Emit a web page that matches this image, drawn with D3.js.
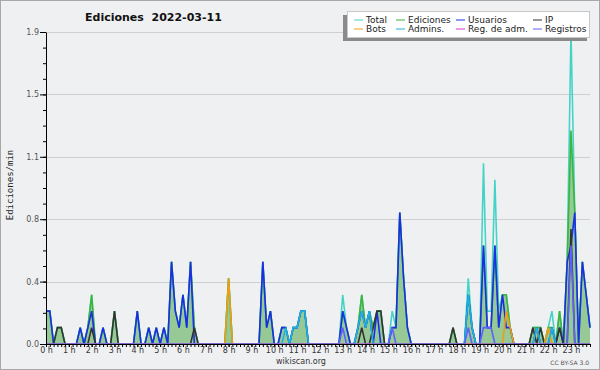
<!DOCTYPE html>
<html><head><meta charset="utf-8">
<script src="https://cdn.jsdelivr.net/npm/d3@7"></script>
<style>
html,body{margin:0;padding:0;background:#eff0f2;}
svg{display:block;}
text{font-family:"DejaVu Sans",sans-serif;}
</style></head><body>
<svg id="chart" width="600" height="370"></svg>
<script>
// 10-minute buckets (144 per day), values in edits/min
const hourLabels = ["0 h","1 h","2 h","3 h","4 h","5 h","6 h","7 h","8 h","9 h","10 h","11 h",
  "12 h","13 h","14 h","15 h","16 h","17 h","18 h","19 h","20 h","21 h","22 h","23 h"];
const yTicks = [0, 0.38, 0.76, 1.14, 1.52, 1.9];

const total = [
.2,.2,0,.1,.1,0,0,0,0,.1,0,.1,
.3,0,0,.1,0,0,.2,0,0,0,0,0,
.2,0,0,.1,0,.1,0,.1,0,.5,.2,.1,
.3,.1,.5,.1,0,0,0,0,0,0,0,0,
.4,0,0,0,0,0,0,0,0,.5,.1,.2,
0,0,.1,.1,0,.1,.1,.2,.2,0,0,0,
0,0,0,0,0,0,.3,.1,0,0,.1,.3,
.1,.2,.1,.2,.2,0,0,.2,.1,.8,.4,.1,
0,0,0,0,0,0,0,0,0,0,0,.1,
0,0,0,.4,.1,0,0,1.1,.2,.2,1.0,.2,
.3,.3,.1,0,0,0,0,0,.1,.1,.1,0,
.1,.2,0,.2,0,.5,1.9,.8,0,.5,.3,.1];

const ediciones = [
.2,.2,0,.1,.1,0,0,0,0,.1,0,.1,
.3,0,0,.1,0,0,.2,0,0,0,0,0,
.2,0,0,.1,0,.1,0,.1,0,.5,.2,.1,
.3,.1,.5,.1,0,0,0,0,0,0,0,0,
.4,0,0,0,0,0,0,0,0,.5,.1,.2,
0,0,.1,.1,0,.1,.1,.2,.2,0,0,0,
0,0,0,0,0,0,.2,.1,0,0,.1,.3,
.1,.2,.1,.2,.2,0,0,.1,.1,.8,.4,.1,
0,0,0,0,0,0,0,0,0,0,0,.1,
0,0,0,.3,.1,0,0,.6,.1,.1,.6,.1,
.3,.3,.1,0,0,0,0,0,.1,.1,.1,0,
.1,.1,0,.2,0,.5,1.3,.8,0,.5,.3,.1];

const usuarios = [
.2,.2,0,0,0,0,0,0,0,.1,0,.1,
.2,0,0,.1,0,0,0,0,0,0,0,0,
.2,0,0,.1,0,.1,0,.1,0,.5,.2,.1,
.3,.1,.5,0,0,0,0,0,0,0,0,0,
0,0,0,0,0,0,0,0,0,.5,.1,.2,
0,0,.1,.1,0,.1,.1,.2,.2,0,0,0,
0,0,0,0,0,0,.2,.1,0,0,.1,.2,
.1,.2,0,.2,0,0,0,.1,.1,.8,.4,.1,
0,0,0,0,0,0,0,0,0,0,0,0,
0,0,0,.3,.1,0,0,.6,.1,.1,.6,.1,
.3,.1,.1,0,0,0,0,0,0,.1,0,0,
0,.1,0,.1,0,.5,.6,.8,0,.5,.3,.1];

const ip = [
0,0,0,.1,.1,0,0,0,0,0,0,0,
.1,0,0,0,0,0,.2,0,0,0,0,0,
0,0,0,0,0,0,0,0,0,0,0,0,
0,0,0,.1,0,0,0,0,0,0,0,0,
0,0,0,0,0,0,0,0,0,0,0,0,
0,0,0,0,0,0,0,0,0,0,0,0,
0,0,0,0,0,0,0,0,0,0,0,.1,
0,0,.1,.2,.2,0,0,0,0,0,0,0,
0,0,0,0,0,0,0,0,0,0,0,.1,
0,0,0,0,0,0,0,0,0,0,0,0,
0,0,0,0,0,0,0,0,.1,0,.1,0,
0,0,0,.1,0,0,.7,0,0,0,0,0];

const bots = [
0,0,0,0,0,0,0,0,0,0,0,0,
0,0,0,0,0,0,0,0,0,0,0,0,
0,0,0,0,0,0,0,0,0,0,0,0,
0,0,0,0,0,0,0,0,0,0,0,0,
.4,0,0,0,0,0,0,0,0,0,0,0,
0,0,0,0,0,0,0,0,0,0,0,0,
0,0,0,0,0,0,0,0,0,0,0,0,
0,0,0,0,0,0,0,0,0,0,0,0,
0,0,0,0,0,0,0,0,0,0,0,0,
0,0,0,0,0,0,0,0,0,0,0,0,
0,.2,.1,0,0,0,0,0,0,0,0,0,
.1,0,0,0,0,0,0,0,0,0,0,0];

const admins = [
0,0,0,0,0,0,0,0,0,0,0,0,
0,0,0,0,0,0,0,0,0,0,0,0,
0,0,0,0,0,0,0,0,0,0,0,0,
0,0,0,0,0,0,0,0,0,0,0,0,
0,0,0,0,0,0,0,0,0,0,0,0,
0,0,0,.1,0,.1,.1,.2,.2,0,0,0,
0,0,0,0,0,0,0,0,0,0,.1,.2,
.1,.2,0,0,0,0,0,0,0,0,0,0,
0,0,0,0,0,0,0,0,0,0,0,0,
0,0,0,.3,.1,0,0,0,0,0,0,0,
0,0,0,0,0,0,0,0,0,.1,0,0,
0,.1,0,0,0,0,0,0,0,0,0,0];

const regAdm = [
0,0,0,0,0,0,0,0,0,0,0,0,
0,0,0,0,0,0,0,0,0,0,0,0,
0,0,0,0,0,0,0,0,0,0,0,0,
0,0,0,0,0,0,0,0,0,0,0,0,
0,0,0,0,0,0,0,0,0,0,0,0,
0,0,0,0,0,0,0,0,0,0,0,0,
0,0,0,0,0,0,0,0,0,0,0,0,
0,0,0,0,0,0,0,0,0,0,0,0,
0,0,0,0,0,0,0,0,0,0,0,0,
0,0,0,0,0,0,0,0,0,0,0,0,
0,0,0,0,0,0,0,0,0,0,0,0,
0,0,0,0,0,0,0,0,0,0,0,0];

const registros = [
0,0,0,0,0,0,0,0,0,0,0,0,
0,0,0,0,0,0,0,0,0,0,0,0,
0,0,0,0,0,0,0,0,0,0,0,0,
0,0,0,0,0,0,0,0,0,0,0,0,
0,0,0,0,0,0,0,0,0,0,0,0,
0,0,0,0,0,0,0,0,0,0,0,0,
0,0,0,0,0,0,.1,0,0,0,0,0,
0,0,0,0,0,0,0,.1,0,0,0,0,
0,0,0,0,0,0,0,0,0,0,0,0,
0,0,0,.1,0,0,0,.1,.1,.1,0,0,
0,0,0,0,0,0,0,0,0,0,0,0,
0,0,0,0,0,0,.6,0,0,0,0,0];

const seriesNames = ["Total","Ediciones","Usuarios","IP","Bots","Admins.","Reg. de adm.","Registros"];
const seriesColors = ["#45d3c7","#3db53d","#1c2de8","#333333","#f39c12","#1fb2e0","#e030e0","#5f5fff"];
const seriesData = [total, ediciones, usuarios, ip, bots, admins, regAdm, registros];

const svg = d3.select("#chart");
const W = 600, H = 370;
const pL = 46, pR = 590, pT = 32, pB = 344;

svg.append("rect").attr("x",0.5).attr("y",0.5).attr("width",W-1).attr("height",H-1)
  .attr("fill","#eff0f2").attr("stroke","#a8a8a8");

const x = d3.scaleLinear().domain([0, 143]).range([pL, pR]);
const y = d3.scaleLinear().domain([0, 1.9]).range([pB, pT]);

// grid
svg.append("g").selectAll("line").data(yTicks.slice(1)).join("line")
  .attr("x1", pL).attr("x2", pR)
  .attr("y1", d => Math.round(y(d)) + 0.5).attr("y2", d => Math.round(y(d)) + 0.5)
  .attr("stroke", "#cfcfcf").attr("stroke-width", 1);

svg.append("defs").append("clipPath").attr("id","clip")
  .append("rect").attr("x", pL).attr("y", pT - 2).attr("width", pR - pL + 2).attr("height", pB - pT + 1.6);

const plot = svg.append("g").attr("clip-path","url(#clip)");
const idx = d3.range(144);

// filled Ediciones area
plot.append("path").datum(idx)
  .attr("d", d3.area().x(i => x(i)).y0(y(0)).y1(i => y(ediciones[i])))
  .attr("fill", "#97c997");

const lineOf = arr => d3.line().x(i => x(i)).y(i => y(arr[i]));
seriesData.forEach((arr, k) => {
  plot.append("path").datum(idx)
    .attr("d", lineOf(arr))
    .attr("fill", "none")
    .attr("stroke", seriesColors[k])
    .attr("stroke-width", 1.6)
    .attr("stroke-linejoin", "miter");
});

// axes
const fontSmall = "8px";
const yMinor = d3.range(0, 21).map(k => k * 0.095);
svg.append("g").attr("transform", `translate(${pL},0)`)
  .call(d3.axisLeft(y).tickValues(yMinor).tickSize(3).tickSizeOuter(0).tickFormat(""))
  .call(g => g.select(".domain").remove())
  .call(g => g.selectAll("line").attr("stroke","#000"));
svg.append("g").attr("transform", `translate(${pL},0)`)
  .call(d3.axisLeft(y).tickValues(yTicks).tickSize(6).tickSizeOuter(0).tickPadding(1).tickFormat(d3.format(".1f")))
  .call(g => g.select(".domain").attr("stroke","#000"))
  .call(g => g.selectAll("line").attr("stroke","#000"))
  .call(g => g.selectAll("text").attr("fill","#555").style("font-size", fontSmall).style("font-family","DejaVu Sans"));

svg.append("g").attr("transform", `translate(0,${pB})`)
  .call(d3.axisBottom(x).tickValues(idx).tickSize(3).tickSizeOuter(0).tickFormat(""))
  .call(g => g.select(".domain").remove())
  .call(g => g.selectAll("line").attr("stroke","#000"));
svg.append("g").attr("transform", `translate(0,${pB})`)
  .call(d3.axisBottom(x).tickValues(d3.range(0, 144, 6)).tickSize(3).tickSizeOuter(0).tickPadding(0)
    .tickFormat(i => hourLabels[i / 6]))
  .call(g => g.select(".domain").attr("stroke","#000"))
  .call(g => g.selectAll("line").attr("stroke","#000"))
  .call(g => g.selectAll("text").attr("fill","#333").style("font-size", fontSmall).style("font-family","DejaVu Sans"));

// title
svg.append("text").attr("x", 85).attr("y", 21)
  .style("font-family","DejaVu Sans").style("font-weight","bold").style("font-size","11px")
  .style("white-space","pre").attr("fill","#111")
  .text("Ediciones  2022-03-11");

// y label
svg.append("text").attr("transform","translate(13,185) rotate(-90)")
  .attr("text-anchor","middle")
  .style("font-family","DejaVu Sans Mono").style("font-size","9px").attr("fill","#222")
  .text("Ediciones/min");

// footer
svg.append("text").attr("x", 301).attr("y", 364).attr("text-anchor","middle")
  .style("font-size","8px").attr("fill","#333").text("wikiscan.org");
svg.append("text").attr("x", 589).attr("y", 365).attr("text-anchor","end")
  .style("font-size","6px").attr("fill","#555").text("CC BY-SA 3.0");

// legend
const lg = svg.append("g");
lg.append("rect").attr("x",343).attr("y",15).attr("width",244).attr("height",26).attr("fill","#8a8a8a");
lg.append("rect").attr("x",347.5).attr("y",11.5).attr("width",242).attr("height",26)
  .attr("fill","#ffffff").attr("stroke","#c8c8c8");
const colX = [354, 396, 456, 533];
const rowY = [20, 29];
seriesNames.forEach((name, k) => {
  const cx = colX[k % 4], ry = rowY[Math.floor(k / 4)];
  lg.append("line").attr("x1", cx).attr("x2", cx + 9).attr("y1", ry).attr("y2", ry)
    .attr("stroke", seriesColors[k]).attr("stroke-width", 1);
  lg.append("text").attr("x", cx + 12).attr("y", ry + 3.3)
    .style("font-size","9px").attr("fill","#222").text(name);
});
</script>
</body></html>
